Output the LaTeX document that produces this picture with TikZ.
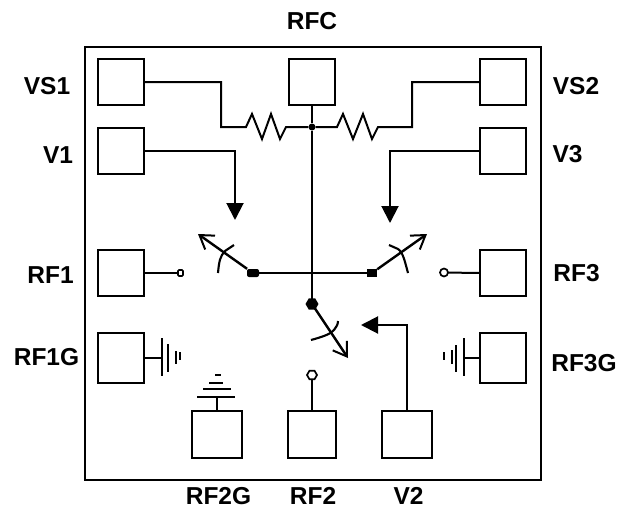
\documentclass[tikz,border=0pt]{standalone}
\usepackage{fontspec}
\setmainfont{Liberation Sans}
\usetikzlibrary{shapes.geometric,arrows.meta}
\tikzset{
  wire/.style={line width=2pt,line join=miter},
  thin wire/.style={line width=2pt},
  pad/.style={draw,line width=2pt,minimum width=46pt,minimum height=46pt,inner sep=0pt,outer sep=0pt},
  lbl/.style={font=\bfseries\fontsize{24.5}{28}\selectfont,inner sep=0pt},
  hexdot/.style={regular polygon,regular polygon sides=6,draw,line width=1.7pt,inner sep=0pt,outer sep=0pt},
  solidhead/.style={-{Triangle[length=17pt,width=17pt]}},
  openhead/.style={-{Straight Barb[length=13pt,width=17pt,line width=2pt]}},
  blade/.style={line width=2.4pt},
  arcw/.style={line width=2.1pt}
}
\begin{document}
\begin{tikzpicture}[x=1pt,y=-1pt]
\useasboundingbox (0,0) rectangle (619,509);
\draw[wire] (85,47) rectangle (541,480);
% pads
\node[pad] (vs1) at (121,82) {};
\node[pad] (v1) at (121,150.5) {};
\node[pad] (rf1) at (121,273) {};
\node[pad,minimum height=50pt] (rf1g) at (121,358) {};
\node[pad] (rfc) at (312,82) {};
\node[pad] (vs2) at (503,82) {};
\node[pad] (v3) at (503,150.5) {};
\node[pad] (rf3) at (503,273) {};
\node[pad,minimum height=50pt] (rf3g) at (503,358) {};
\node[pad,minimum width=50pt,minimum height=47pt] (rf2g) at (217,434.5) {};
\node[pad,minimum width=48pt,minimum height=47pt] (rf2) at (312,434.5) {};
\node[pad,minimum width=50pt,minimum height=47pt] (v2) at (407,434.5) {};
% labels
\node[lbl] (lrfc) at (312,21) {RFC};
\node[lbl] (lvs1) at (47,86) {VS1};
\node[lbl] (lv1) at (58,155) {V1};
\node[lbl] (lrf1) at (50.5,275) {RF1};
\node[lbl] (lrf1g) at (46.5,357.5) {RF1G};
\node[lbl] (lvs2) at (576,86) {VS2};
\node[lbl] (lv3) at (567.5,154) {V3};
\node[lbl] (lrf3) at (576.5,273) {RF3};
\node[lbl] (lrf3g) at (584,363) {RF3G};
\node[lbl] (lrf2g) at (218.5,496) {RF2G};
\node[lbl] (lrf2) at (313,496) {RF2};
\node[lbl] (lv2) at (408.5,496) {V2};
% junctions and contacts
\node[circle,fill,inner sep=0pt,minimum size=7pt] (junc) at (312,127) {};
\node[hexdot,fill,minimum size=11pt] (common) at (312,304) {};
\node[fill,rounded corners=2pt,inner sep=0pt,minimum width=12pt,minimum height=8pt] (ldot) at (253,273) {};
\node[fill,inner sep=0pt,minimum width=10pt,minimum height=8pt] (rdot) at (372,273) {};
\node[hexdot,fill=white,minimum size=10pt] (rf2c) at (312,375) {};
\node[circle,draw,fill=white,line width=1.7pt,inner sep=0pt,minimum size=8pt,outer sep=0pt] (rf3c) at (444,272.5) {};
\node[draw,fill=white,line width=1.6pt,inner sep=0pt,minimum width=5pt,minimum height=6pt,rounded corners=1pt,outer sep=0pt] (rf1c) at (180.5,273) {};
% RFC bus
\draw[wire] (rfc.south) -- (junc);
\draw[wire] (junc) -- (common);
\draw[thin wire] (ldot) -- (rdot);
% resistors
\coordinate (lcorner) at (221,127);
\coordinate (rcorner) at (412,127);
\draw[wire] (vs1.east) -- (221,82) -- (lcorner) -- (246,127) -- (252,114) -- (262,139) -- (271,114) -- (280,139) -- (286,127) -- (junc);
\draw[wire] (vs2.west) -- (412,82) -- (rcorner) -- (378,127) -- (372,139) -- (363,114) -- (353,139) -- (343,114) -- (337,127) -- (junc);
% control arrows
\coordinate (t1) at (235,220);
\coordinate (t3) at (390,223);
\coordinate (t2) at (361,325);
\draw[wire,solidhead] (v1.east) -- (235,150.5) -- (t1);
\draw[wire,solidhead] (v3.west) -- (390,150.5) -- (t3);
\draw[wire,solidhead] (v2.north) -- (407,325) -- (t2);
% switch blades
\coordinate (bl) at (198,234);
\coordinate (br) at (427,234);
\coordinate (bb) at (348,358);
\draw[blade,openhead] (ldot) -- (bl);
\draw[blade,openhead] (rdot) -- (br);
\draw[blade,openhead] (common) -- (bb);
% actuator arcs
\draw[arcw] (218,273) .. controls (219,262) and (220,256) .. (225,251) -- (234,245);
\draw[arcw] (408,273) .. controls (405,262) and (403,252) .. (398,249) -- (389,245);
\draw[arcw] (311,340) .. controls (322,337) and (331,334) .. (334,330) .. controls (336,327) and (338,325) .. (338,321);
% stubs
\draw[thin wire] (rf1.east) -- (rf1c);
\draw[thin wire] (rf3.west) -- (rf3c);
\draw[thin wire] (rf2.north) -- (rf2c);
% grounds
\draw[wire] (rf1g.east) -- (162,358);
\draw[wire] (162,338) -- (162,376);
\draw[wire] (168,344) -- (168,372);
\draw[wire] (176,351) -- (176,364);
\draw[wire] (180,352) -- (180,360);
\draw[wire] (rf3g.west) -- (464,358);
\draw[wire] (464,338) -- (464,376);
\draw[wire] (456,345) -- (456,372);
\draw[wire] (452,350) -- (452,364);
\draw[wire] (444,352) -- (444,360);
\draw[wire] (rf2g.north) -- (217,397);
\draw[wire] (197,397) -- (235,397);
\draw[wire] (203,389) -- (231,389);
\draw[wire] (209,383) -- (223,383);
\draw[wire] (215,375) -- (221,375);
\end{tikzpicture}
\end{document}
